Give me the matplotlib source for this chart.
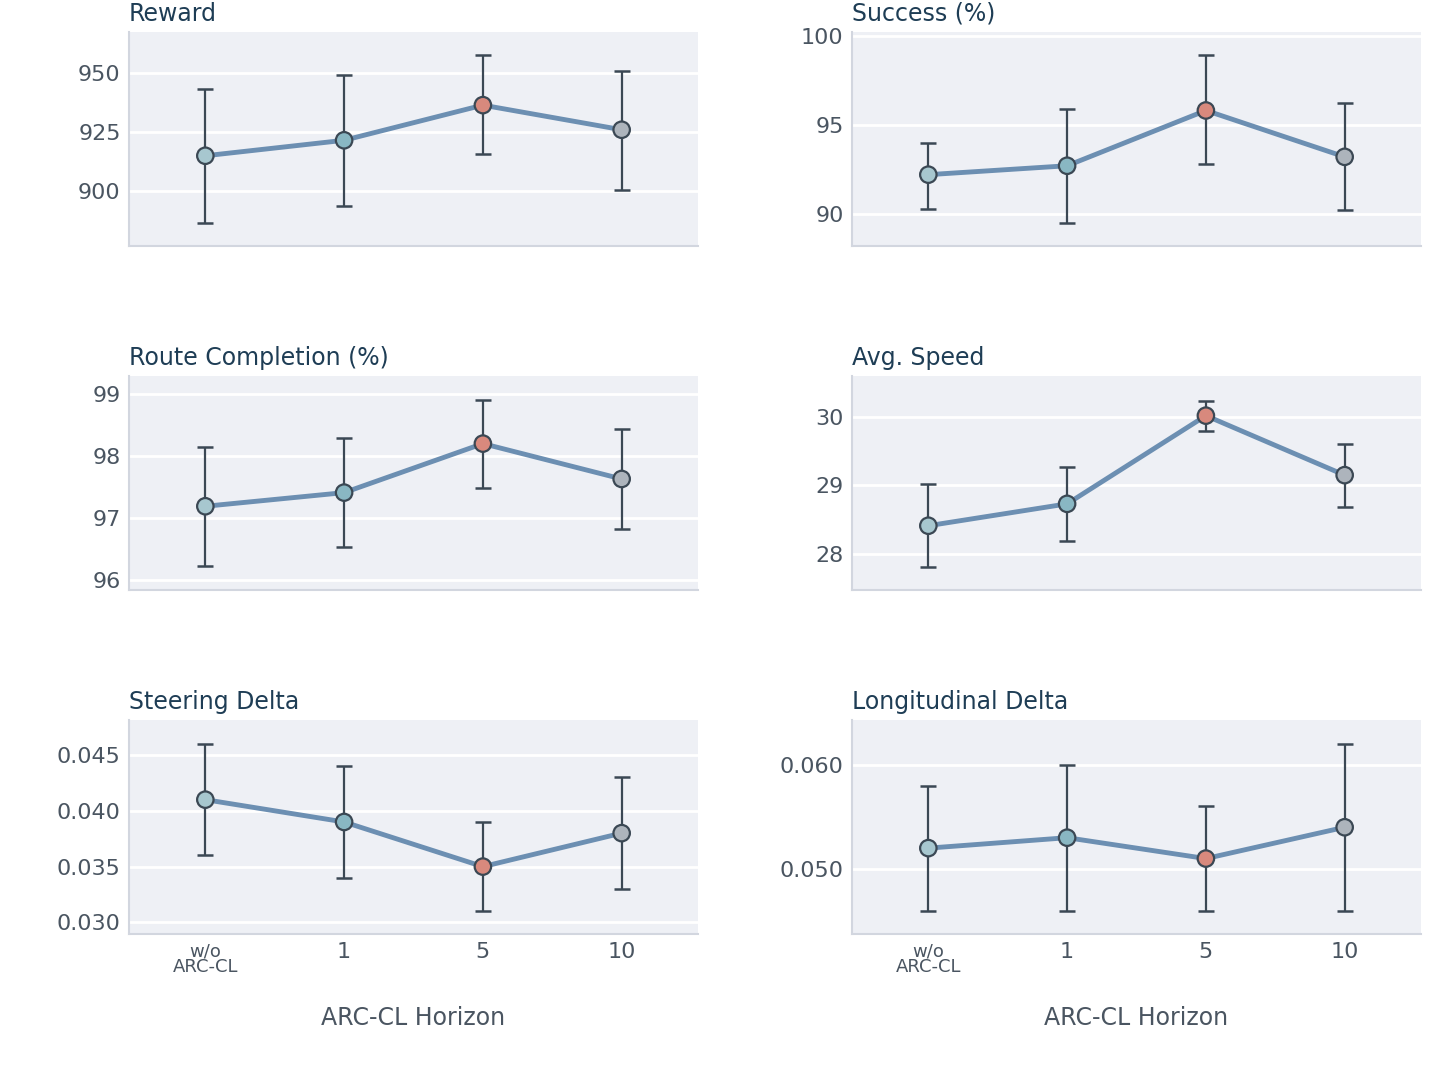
import matplotlib
matplotlib.use("Agg")
import matplotlib.pyplot as plt
import numpy as np

# значения
labels = ["w/o\nARC-CL", "1", "5", "10"]
titles = ["Reward", "Success (%)", "Route Completion (%)", "Avg. Speed",
          "Steering Delta", "Longitudinal Delta"]

reward = [914.9, 921.5, 936.5, 926.0]
reward_lo = [886.3, 893.6, 915.5, 900.3]
reward_hi = [943.3, 949.4, 957.8, 951.0]

success = [92.2, 92.7, 95.8, 93.2]
success_lo = [90.3, 89.5, 92.8, 90.2]
success_hi = [94.0, 95.9, 98.9, 96.2]

route = [97.19, 97.41, 98.20, 97.63]
route_lo = [96.22, 96.53, 97.48, 96.82]
route_hi = [98.14, 98.29, 98.91, 98.43]

speed = [28.41, 28.73, 30.02, 29.15]
speed_lo = [27.81, 28.19, 29.79, 28.68]
speed_hi = [29.02, 29.27, 30.24, 29.61]

steer = [0.041, 0.039, 0.035, 0.038]
steer_lo = [0.036, 0.034, 0.031, 0.033]
steer_hi = [0.046, 0.044, 0.039, 0.043]

longi = [0.052, 0.053, 0.051, 0.054]
longi_lo = [0.046, 0.046, 0.046, 0.046]
longi_hi = [0.058, 0.060, 0.056, 0.062]

means = [reward, success, route, speed, steer, longi]
lows = [reward_lo, success_lo, route_lo, speed_lo, steer_lo, longi_lo]
highs = [reward_hi, success_hi, route_hi, speed_hi, steer_hi, longi_hi]

ylims = [(876.4, 967.7), (88.2, 100.2), (95.84, 99.29), (27.47, 30.6),
         (0.02896, 0.04814), (0.04377, 0.06428)]
yticks = [[900, 925, 950], [90, 95, 100], [96, 97, 98, 99], [28, 29, 30],
          [0.030, 0.035, 0.040, 0.045], [0.050, 0.060]]
yfmt = ["{:.0f}", "{:.0f}", "{:.0f}", "{:.0f}", "{:.3f}", "{:.3f}"]

point_colors = ["#a7c7cf", "#89b7c3", "#d8897d", "#adb4bc"]
edge = "#3b4854"
line_col = "#6c8fb2"
tick_col = "#4a5561"
title_col = "#1e3d55"
spine_col = "#d2d6df"

fig = plt.figure(figsize=(14.32, 10.74), dpi=100)
W, H = 1432, 1074
lefts = [129, 852]
tops = [32, 376, 720]
aw, ah = 569, 214

x = np.arange(len(labels))
for i in range(6):
    r, c = i // 2, i % 2
    ax = fig.add_axes([lefts[c] / W, 1 - (tops[r] + ah) / H, aw / W, ah / H])
    ax.set_facecolor("#eef0f5")
    m = np.array(means[i])
    err = [m - np.array(lows[i]), np.array(highs[i]) - m]
    ax.errorbar(x, m, yerr=err, fmt="none", ecolor=edge, elinewidth=1.6,
                capsize=6, capthick=1.8, zorder=2)
    ax.plot(x, m, color=line_col, lw=3.5, zorder=3)
    ax.scatter(x, m, s=140, c=point_colors, edgecolors=edge, linewidths=1.6, zorder=4)
    ax.set_xlim(-0.55, 3.55)
    ax.set_ylim(*ylims[i])
    ax.set_yticks(yticks[i])
    ax.set_yticklabels([yfmt[i].format(v) for v in yticks[i]])
    ax.grid(axis="y", color="white", lw=2)
    ax.set_axisbelow(True)
    for s in ["top", "right"]:
        ax.spines[s].set_visible(False)
    for s in ["left", "bottom"]:
        ax.spines[s].set_color(spine_col)
        ax.spines[s].set_linewidth(1.5)
    ax.tick_params(axis="both", length=0, labelsize=16, colors=tick_col, pad=6)
    ax.set_title(titles[i], loc="left", fontsize=17, color=title_col, pad=8)
    ax.set_xticks(x)
    if r == 2:
        ax.set_xticklabels(labels)
        ax.get_xticklabels()[0].set_fontsize(13)
        ax.get_xticklabels()[0].set_linespacing(0.8)
        ax.set_xlabel("ARC-CL Horizon", fontsize=17, color=tick_col, labelpad=22)
    else:
        ax.set_xticklabels([])

fig.savefig("out.png", dpi=100)
